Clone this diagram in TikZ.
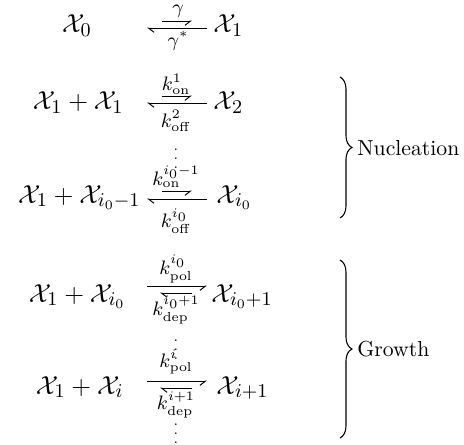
\documentclass[tikz,border=0pt]{standalone}
\usetikzlibrary{arrows.meta,decorations.pathreplacing}
\begin{document}
\begin{tikzpicture}[x=0.4608pt,y=-0.4608pt,
  sp/.style={inner sep=0pt, font=\fontsize{12.5}{15}\selectfont},
  lb/.style={inner sep=0pt, font=\fontsize{12.5}{15}\selectfont},
  dt/.style={inner sep=0pt, font=\fontsize{6.5}{7}\selectfont},
  tx/.style={inner sep=0pt, font=\fontsize{10}{12}\selectfont, anchor=west},
  fw/.style={line width=0.45pt, -{Straight Barb[harpoon,swap,length=2.6pt,width=4pt]}},
  bw/.style={line width=0.45pt, -{Straight Barb[harpoon,length=2.6pt,width=4pt]}},
  br/.style={line width=0.5pt, decorate, decoration={brace, amplitude=5.5pt, aspect=0.5}}]
\useasboundingbox (0,0) rectangle (464,444);
% Row 1
\node[sp, anchor=base] (x0) at (77,33) {$\mathcal{X}_0$};
\node[sp, anchor=base west] (x1) at (213,33) {$\mathcal{X}_1$};
\coordinate (a1a) at (162,21); \coordinate (a1b) at (192,21);
\coordinate (a1c) at (207,28); \coordinate (a1d) at (147,28);
\draw[fw] (a1a) -- (a1b);
\draw[bw] (a1c) -- (a1d);
\node[lb] (g1) at (178,11) {$\scriptstyle\gamma$};
\node[lb] (g2) at (178,41) {$\scriptstyle\gamma^{*}$};
% Row 2
\node[sp, anchor=base east] (r2) at (124,110) {$\mathcal{X}_1+\mathcal{X}_1$};
\node[sp, anchor=base west] (p2) at (213,110) {$\mathcal{X}_2$};
\coordinate (a2a) at (162,96); \coordinate (a2b) at (192,96);
\coordinate (a2c) at (207,103); \coordinate (a2d) at (147,103);
\draw[fw] (a2a) -- (a2b);
\draw[bw] (a2c) -- (a2d);
\node[lb] (k2a) at (176,84) {$\scriptstyle k_{\mathrm{on}}^{1}$};
\node[lb] (k2b) at (176,121) {$\scriptstyle k_{\mathrm{off}}^{2}$};
\node[dt] (d1) at (176,152) {$\vdots$};
% Row 3
\node[sp, anchor=base east] (r3) at (141,203) {$\mathcal{X}_1+\mathcal{X}_{i_0-1}$};
\node[sp, anchor=base west] (p3) at (216,203) {$\mathcal{X}_{i_0}$};
\coordinate (a3a) at (162,191); \coordinate (a3b) at (192,191);
\coordinate (a3c) at (207,199); \coordinate (a3d) at (147,199);
\draw[fw] (a3a) -- (a3b);
\draw[bw] (a3c) -- (a3d);
\node[lb] (k3a) at (176,177) {$\scriptstyle k_{\mathrm{on}}^{i_0-1}$};
\node[lb] (k3b) at (176,221) {$\scriptstyle k_{\mathrm{off}}^{i_0}$};
% Row 4
\node[sp, anchor=base east] (r4) at (126,302) {$\mathcal{X}_1+\mathcal{X}_{i_0}$};
\node[sp, anchor=base west] (p4) at (211,302) {$\mathcal{X}_{i_0+1}$};
\coordinate (a4a) at (147,286); \coordinate (a4b) at (207,286);
\coordinate (a4c) at (192,293); \coordinate (a4d) at (160,293);
\draw[fw] (a4a) -- (a4b);
\draw[bw] (a4c) -- (a4d);
\node[lb] (k4a) at (176,269) {$\scriptstyle k_{\mathrm{pol}}^{i_0}$};
\node[lb] (k4b) at (176,310) {$\scriptstyle k_{\mathrm{dep}}^{i_0+1}$};
\node[dt] (d2) at (176,343) {$\vdots$};
% Row 5
\node[sp, anchor=base east] (r5) at (124,394) {$\mathcal{X}_1+\mathcal{X}_{i}$};
\node[sp, anchor=base west] (p5) at (216,394) {$\mathcal{X}_{i+1}$};
\coordinate (a5a) at (147,381); \coordinate (a5b) at (207,381);
\coordinate (a5c) at (192,388); \coordinate (a5d) at (160,388);
\draw[fw] (a5a) -- (a5b);
\draw[bw] (a5c) -- (a5d);
\node[lb] (k5a) at (176,362) {$\scriptstyle k_{\mathrm{pol}}^{i}$};
\node[lb] (k5b) at (176,405) {$\scriptstyle k_{\mathrm{dep}}^{i+1}$};
\node[dt] (d3) at (176,427) {$\vdots$};
% Braces
\coordinate (b1t) at (340,77); \coordinate (b1b) at (340,218);
\coordinate (b2t) at (340,260); \coordinate (b2b) at (340,438);
\draw[br] (b1t) -- (b1b);
\draw[br] (b2t) -- (b2b);
\node[tx] (nuc) at (357,148) {Nucleation};
\node[tx] (gro) at (357,349) {Growth};
\end{tikzpicture}
\end{document}
